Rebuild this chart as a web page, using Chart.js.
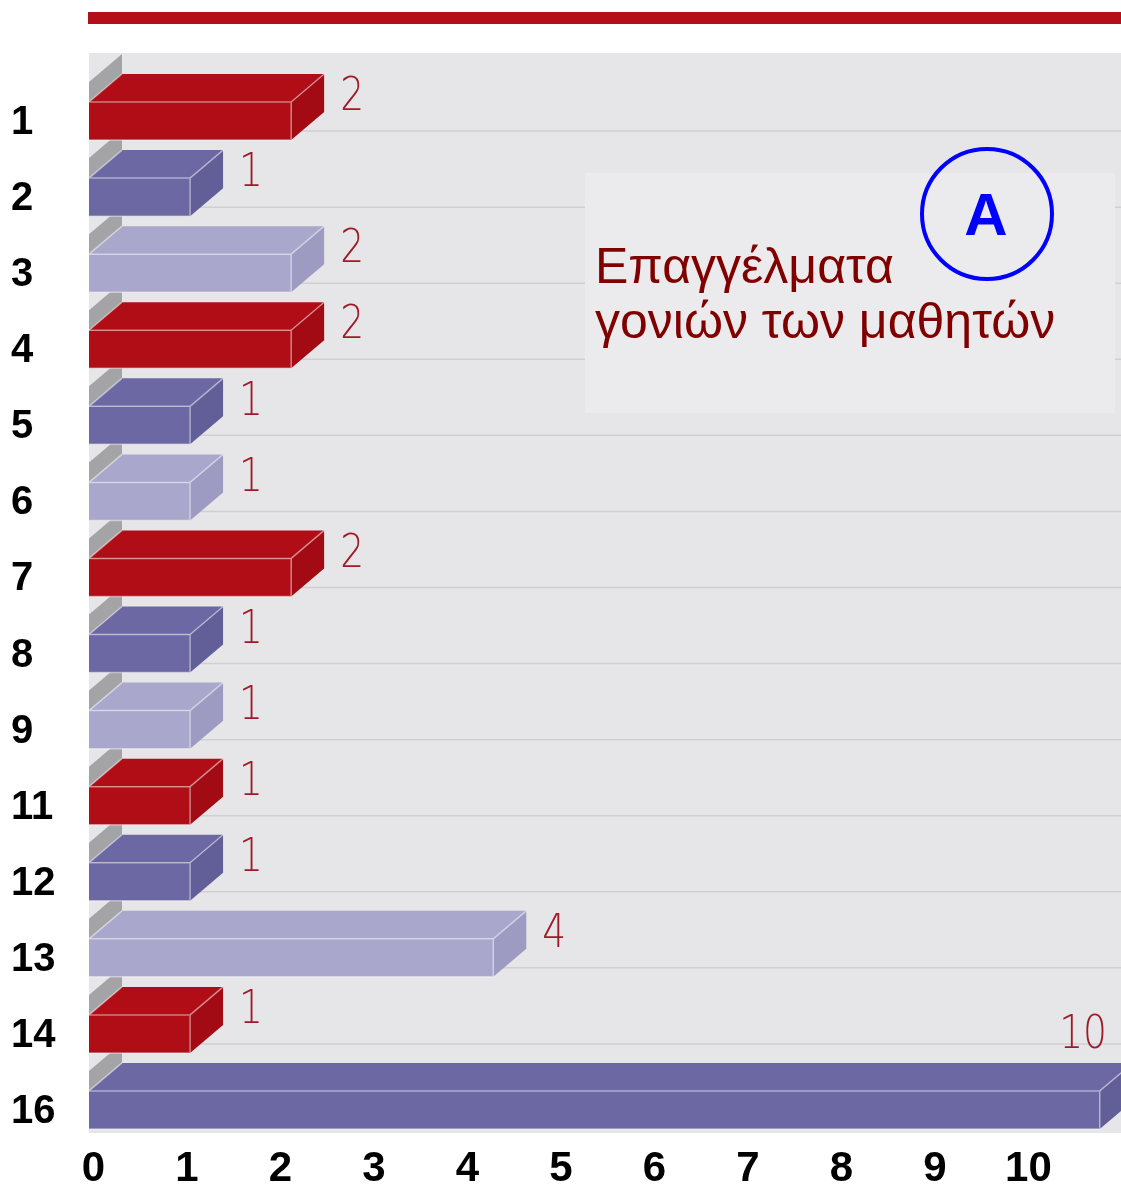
<!DOCTYPE html>
<html><head><meta charset="utf-8">
<script src="https://cdn.jsdelivr.net/npm/chart.js@4.4.1/dist/chart.umd.min.js"></script>
<style>html,body{margin:0;padding:0;background:#fff;}#wrap{width:1121px;height:1189px;}</style>
</head><body><div id="wrap"><canvas id="c" width="1121" height="1189"></canvas></div>
<script>
// ---- data ----
const categories = ['1','2','3','4','5','6','7','8','9','11','12','13','14','16'];
const counts = [2,1,2,2,1,1,2,1,1,1,1,4,1,10];
const xTickValues = [0,1,2,3,4,5,6,7,8,9,10];
const titleLines = ['Επαγγέλματα','γονιών των μαθητών'];
const badgeText = 'A';

// ---- style ----
const palette = ['#b00d17','#6c68a4','#a9a7cc'];
const sidePalette = ['#a30b14','#625e98','#9d9bc2'];
const barColors = categories.map((_, i) => palette[i % 3]);
const DX = 33, DY = 28, WALL = 20;

const deco = {
  id: 'deco',
  beforeDraw(chart) {
    const {ctx, chartArea: a} = chart;
    const ys = chart.scales.y;
    ctx.save();
    ctx.fillStyle = '#b20f19';
    ctx.fillRect(a.left - 1, 12, chart.width - a.left + 1, 12);
    ctx.fillStyle = '#e6e6e8';
    ctx.fillRect(a.left, a.top - 30, a.right - a.left, (a.bottom - 15) - (a.top - 30));
    const half = (ys.getPixelForValue(1) - ys.getPixelForValue(0)) / 2;
    ctx.strokeStyle = '#cfcfd4'; ctx.lineWidth = 1.5;
    for (let i = 0; i < categories.length - 1; i++) {
      const yy = ys.getPixelForValue(i) + half - DY;
      ctx.beginPath(); ctx.moveTo(a.left + DX, yy); ctx.lineTo(a.right, yy); ctx.stroke();
    }
    ctx.fillStyle = '#ebebed';
    ctx.fillRect(585, 173, 530, 240);
    ctx.restore();
  },
  beforeDatasetsDraw(chart) {
    const {ctx} = chart;
    const meta = chart.getDatasetMeta(0);
    ctx.save();
    ctx.fillStyle = '#a4a4a6';
    meta.data.forEach(el => {
      const L = el.base, ft = el.y - el.height / 2;
      ctx.beginPath();
      ctx.moveTo(L, ft); ctx.lineTo(L, ft - WALL);
      ctx.lineTo(L + DX, ft - DY - WALL); ctx.lineTo(L + DX, ft - DY);
      ctx.closePath(); ctx.fill();
    });
    ctx.restore();
  },
  afterDatasetsDraw(chart) {
    const {ctx, chartArea: a} = chart;
    const meta = chart.getDatasetMeta(0);
    ctx.save();
    meta.data.forEach((el, i) => {
      const L = el.base, R = el.x, ft = el.y - el.height / 2, fb = el.y + el.height / 2;
      ctx.fillStyle = palette[i % 3];
      ctx.beginPath();
      ctx.moveTo(L, ft); ctx.lineTo(R, ft); ctx.lineTo(R + DX, ft - DY); ctx.lineTo(L + DX, ft - DY);
      ctx.closePath(); ctx.fill();
      ctx.fillStyle = sidePalette[i % 3];
      ctx.beginPath();
      ctx.moveTo(R, ft); ctx.lineTo(R + DX, ft - DY); ctx.lineTo(R + DX, fb - DY); ctx.lineTo(R, fb);
      ctx.closePath(); ctx.fill();
      ctx.strokeStyle = 'rgba(255,255,255,0.45)'; ctx.lineWidth = 1.5;
      ctx.beginPath();
      ctx.moveTo(L, ft); ctx.lineTo(R, ft); ctx.lineTo(R, fb);
      ctx.moveTo(R, ft); ctx.lineTo(R + DX, ft - DY);
      ctx.moveTo(L, ft); ctx.lineTo(L + DX, ft - DY);
      ctx.moveTo(L, fb); ctx.lineTo(R, fb);
      ctx.stroke();
      const txt = String(counts[i]);
      ctx.font = '200 47px "DejaVu Sans", sans-serif';
      ctx.fillStyle = '#9e1a27';
      ctx.textBaseline = 'middle';
      const w = ctx.measureText(txt).width * 0.8;
      let lx = R + DX + 16, ly = ft - 4;
      if (lx + w > a.right) { lx = a.right - 14 - w; ly = ft - DY - 27; }
      ctx.save();
      ctx.translate(lx, ly); ctx.scale(0.8, 1);
      ctx.textAlign = 'left';
      ctx.fillText(txt, 0, 0);
      ctx.restore();
    });
    ctx.restore();
  },
  afterDraw(chart) {
    const {ctx} = chart;
    ctx.save();
    ctx.fillStyle = '#800000';
    ctx.font = '50px "Liberation Sans", Arial, sans-serif';
    ctx.textAlign = 'left'; ctx.textBaseline = 'alphabetic';
    ctx.fillText(titleLines[0], 595, 283);
    ctx.fillText(titleLines[1], 595, 338);
    ctx.strokeStyle = '#0000ff'; ctx.lineWidth = 4;
    ctx.beginPath(); ctx.arc(987, 214, 65, 0, Math.PI * 2); ctx.stroke();
    ctx.fillStyle = '#0000ff';
    ctx.font = 'bold 60px "Liberation Sans", Arial, sans-serif';
    ctx.textAlign = 'center';
    ctx.fillText(badgeText, 986, 235);
    ctx.restore();
  }
};

new Chart(document.getElementById('c'), {
  type: 'bar',
  data: {
    labels: categories,
    datasets: [{
      data: counts,
      backgroundColor: barColors,
      borderWidth: 0,
      barPercentage: 0.5,
      categoryPercentage: 1.0,
      xAxisID: 'x', yAxisID: 'y'
    }]
  },
  options: {
    indexAxis: 'y',
    responsive: false,
    animation: false,
    layout: { padding: { top: 83, left: 11, right: 0, bottom: 0 } },
    plugins: { legend: { display: false }, tooltip: { enabled: false } },
    scales: {
      x: { type: 'linear', display: false, min: 0, max: 10.21 },
      xl: {
        type: 'linear', position: 'bottom', axis: 'x', min: -0.048, max: 10.99,
        afterBuildTicks(s) { s.ticks = xTickValues.map(v => ({ value: v })); },
        afterFit(s) { s.height = 41; },
        grid: { display: false, drawTicks: false }, border: { display: false },
        ticks: { autoSkip: false, maxRotation: 0, padding: 0, color: '#000',
          font: { family: '"Liberation Sans", Arial, sans-serif', size: 42, weight: 'bold', lineHeight: 1 },
          callback: v => String(v) }
      },
      y: {
        afterFit(s) { s.width = 78; },
        grid: { display: false }, border: { display: false },
        ticks: { crossAlign: 'far', labelOffset: 2, color: '#000', autoSkip: false,
          font: { family: '"Liberation Sans", Arial, sans-serif', size: 40, weight: 'bold' } }
      }
    }
  },
  plugins: [deco]
});
</script></body></html>
